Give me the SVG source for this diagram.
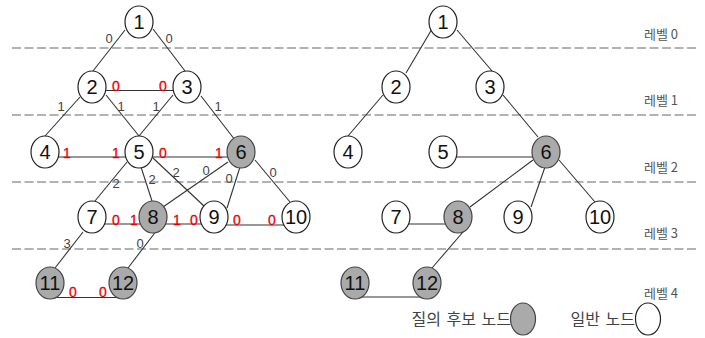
<svg xmlns="http://www.w3.org/2000/svg" width="705" height="338" viewBox="0 0 705 338">
  <style>
    .bg { fill: #ffffff; }
    .level-line { stroke: #999999; stroke-width: 1.6; stroke-dasharray: 9 3.5; fill: none; }
    .edge { stroke: #333333; stroke-width: 1.1; fill: none; }
    .node { fill: #ffffff; stroke: #222222; stroke-width: 1.2; }
    .cand { fill: #aaaaaa; stroke: #444444; stroke-width: 1.2; }
    .num { font-family: "Liberation Sans", Arial, sans-serif; font-size: 20px; fill: #111111; text-anchor: middle; }
    .w { font-family: "Liberation Sans", Arial, sans-serif; font-size: 13px; fill: #444444; text-anchor: middle; }
    .r { font-family: "Liberation Sans", Arial, sans-serif; font-size: 14px; fill: #ee0000; text-anchor: middle; stroke: #ee0000; stroke-width: 0.3; }
    .lvl { font-family: "Noto Sans CJK KR", "Noto Sans", sans-serif; font-size: 13px; fill: #555555; }
    .leg { font-family: "Noto Sans CJK KR", "Noto Sans", sans-serif; font-size: 16px; fill: #444444; text-anchor: end; word-spacing: 2px; }
  </style>

  <rect class="bg" x="0" y="0" width="705" height="338"/>

  <!-- level separators -->
  <g id="levels">
    <line class="level-line" x1="12" y1="48" x2="698" y2="48"/>
    <line class="level-line" x1="12" y1="115" x2="698" y2="115"/>
    <line class="level-line" x1="12" y1="182" x2="698" y2="182"/>
    <line class="level-line" x1="12" y1="249" x2="698" y2="249"/>
    <text class="lvl" x="644" y="38.5">레벨 0</text>
    <text class="lvl" x="644" y="104.5">레벨 1</text>
    <text class="lvl" x="644" y="171.5">레벨 2</text>
    <text class="lvl" x="644" y="237.5">레벨 3</text>
    <text class="lvl" x="644" y="297.5">레벨 4</text>
  </g>

  <!-- connectors -->
  <g id="connectors">
    <!-- left graph -->
    <line class="edge" x1="125" y1="30" x2="93" y2="71"/>
    <line class="edge" x1="153" y1="29" x2="185" y2="71"/>
    <line class="edge" x1="92" y1="90.5" x2="187" y2="90.5"/>
    <line class="edge" x1="80" y1="97" x2="45" y2="136"/>
    <line class="edge" x1="106" y1="95" x2="139" y2="136"/>
    <line class="edge" x1="173" y1="95" x2="139" y2="136"/>
    <line class="edge" x1="201" y1="96" x2="235" y2="140"/>
    <line class="edge" x1="45" y1="157" x2="139" y2="157"/>
    <line class="edge" x1="139" y1="157" x2="241" y2="157"/>
    <line class="edge" x1="127" y1="162" x2="95" y2="201"/>
    <line class="edge" x1="141" y1="167" x2="152" y2="201"/>
    <line class="edge" x1="153" y1="158" x2="205" y2="207"/>
    <line class="edge" x1="228" y1="162" x2="163" y2="207"/>
    <line class="edge" x1="240" y1="167" x2="227" y2="208"/>
    <line class="edge" x1="255" y1="160" x2="290" y2="202"/>
    <line class="edge" x1="92" y1="224" x2="153" y2="224"/>
    <line class="edge" x1="153" y1="224" x2="214" y2="224"/>
    <line class="edge" x1="214" y1="225" x2="296" y2="225"/>
    <line class="edge" x1="83" y1="232" x2="55" y2="268"/>
    <line class="edge" x1="157" y1="230" x2="128" y2="268"/>
    <line class="edge" x1="50" y1="297.5" x2="123" y2="297.5"/>
    <!-- right tree -->
    <line class="edge" x1="432" y1="29" x2="406" y2="73"/>
    <line class="edge" x1="457" y1="30" x2="492" y2="71"/>
    <line class="edge" x1="383" y1="95" x2="348" y2="136"/>
    <line class="edge" x1="503" y1="95" x2="538" y2="137"/>
    <line class="edge" x1="443" y1="157" x2="546" y2="157"/>
    <line class="edge" x1="533" y1="160" x2="470" y2="207"/>
    <line class="edge" x1="545" y1="167" x2="531" y2="207"/>
    <line class="edge" x1="559" y1="160" x2="595" y2="202"/>
    <line class="edge" x1="396" y1="224" x2="458" y2="224"/>
    <line class="edge" x1="463" y1="232" x2="432" y2="268"/>
    <line class="edge" x1="355" y1="297" x2="427" y2="297"/>
  </g>

  <!-- edge weights -->
  <g id="weights">
    <text class="w" x="109" y="43">0</text>
    <text class="w" x="169" y="43">0</text>
    <text class="w" x="61" y="111">1</text>
    <text class="w" x="121" y="111">1</text>
    <text class="w" x="156" y="111">1</text>
    <text class="w" x="218" y="111">1</text>
    <text class="w" x="116" y="188">2</text>
    <text class="w" x="152" y="184">2</text>
    <text class="w" x="176" y="177">2</text>
    <text class="w" x="206" y="175">0</text>
    <text class="w" x="229" y="183">0</text>
    <text class="w" x="273" y="177">0</text>
    <text class="w" x="67" y="248">3</text>
    <text class="w" x="140" y="248">0</text>

    <text class="r" x="116" y="90.5">0</text>
    <text class="r" x="163" y="90.5">0</text>
    <text class="r" x="67" y="158">1</text>
    <text class="r" x="116" y="158">1</text>
    <text class="r" x="163" y="158">0</text>
    <text class="r" x="219" y="158">1</text>
    <text class="r" x="116" y="225">0</text>
    <text class="r" x="134" y="225">1</text>
    <text class="r" x="177" y="225">1</text>
    <text class="r" x="194" y="225">0</text>
    <text class="r" x="237" y="225">0</text>
    <text class="r" x="272" y="225">0</text>
    <text class="r" x="73" y="297">0</text>
    <text class="r" x="103" y="297">0</text>
  </g>

  <!-- left graph nodes -->
  <g id="L1"><ellipse class="node" cx="139" cy="22" rx="14" ry="16"/><text class="num" x="139" y="29">1</text></g>
  <g id="L2"><ellipse class="node" cx="92" cy="87" rx="14" ry="16"/><text class="num" x="92" y="94">2</text></g>
  <g id="L3"><ellipse class="node" cx="187" cy="87" rx="14" ry="16"/><text class="num" x="187" y="94">3</text></g>
  <g id="L4"><ellipse class="node" cx="45" cy="152" rx="14" ry="16"/><text class="num" x="45" y="159">4</text></g>
  <g id="L5"><ellipse class="node" cx="139" cy="152" rx="14" ry="16"/><text class="num" x="139" y="159">5</text></g>
  <g id="L6"><ellipse class="cand" cx="241" cy="152" rx="14" ry="16"/><text class="num" x="241" y="159">6</text></g>
  <g id="L7"><ellipse class="node" cx="92" cy="217" rx="14" ry="16"/><text class="num" x="92" y="224">7</text></g>
  <g id="L8"><ellipse class="cand" cx="153" cy="217" rx="14" ry="16"/><text class="num" x="153" y="224">8</text></g>
  <g id="L9"><ellipse class="node" cx="214" cy="217" rx="14" ry="16"/><text class="num" x="214" y="224">9</text></g>
  <g id="L10"><ellipse class="node" cx="296" cy="217" rx="14" ry="16"/><text class="num" x="296" y="224">10</text></g>
  <g id="L11"><ellipse class="cand" cx="50" cy="283" rx="14" ry="16"/><text class="num" x="50" y="290">11</text></g>
  <g id="L12"><ellipse class="cand" cx="123" cy="283" rx="14" ry="16"/><text class="num" x="123" y="290">12</text></g>

  <!-- right tree nodes -->
  <g id="R1"><ellipse class="node" cx="443" cy="22" rx="14" ry="16"/><text class="num" x="443" y="29">1</text></g>
  <g id="R2"><ellipse class="node" cx="396" cy="87" rx="14" ry="16"/><text class="num" x="396" y="94">2</text></g>
  <g id="R3"><ellipse class="node" cx="490" cy="87" rx="14" ry="16"/><text class="num" x="490" y="94">3</text></g>
  <g id="R4"><ellipse class="node" cx="348" cy="152" rx="14" ry="16"/><text class="num" x="348" y="159">4</text></g>
  <g id="R5"><ellipse class="node" cx="443" cy="152" rx="14" ry="16"/><text class="num" x="443" y="159">5</text></g>
  <g id="R6"><ellipse class="cand" cx="546" cy="152" rx="14" ry="16"/><text class="num" x="546" y="159">6</text></g>
  <g id="R7"><ellipse class="node" cx="396" cy="217" rx="14" ry="16"/><text class="num" x="396" y="224">7</text></g>
  <g id="R8"><ellipse class="cand" cx="458" cy="217" rx="14" ry="16"/><text class="num" x="458" y="224">8</text></g>
  <g id="R9"><ellipse class="node" cx="518" cy="217" rx="14" ry="16"/><text class="num" x="518" y="224">9</text></g>
  <g id="R10"><ellipse class="node" cx="600" cy="217" rx="14" ry="16"/><text class="num" x="600" y="224">10</text></g>
  <g id="R11"><ellipse class="cand" cx="355" cy="283" rx="14" ry="16"/><text class="num" x="355" y="290">11</text></g>
  <g id="R12"><ellipse class="cand" cx="427" cy="283" rx="14" ry="16"/><text class="num" x="427" y="290">12</text></g>

  <!-- legend -->
  <g id="legend">
    <text class="leg" x="511" y="325">질의 후보 노드</text>
    <ellipse class="cand" cx="523" cy="319" rx="12.5" ry="16"/>
    <text class="leg" x="635" y="325">일반 노드</text>
    <ellipse class="node" cx="648" cy="319" rx="12.5" ry="16"/>
  </g>
</svg>
